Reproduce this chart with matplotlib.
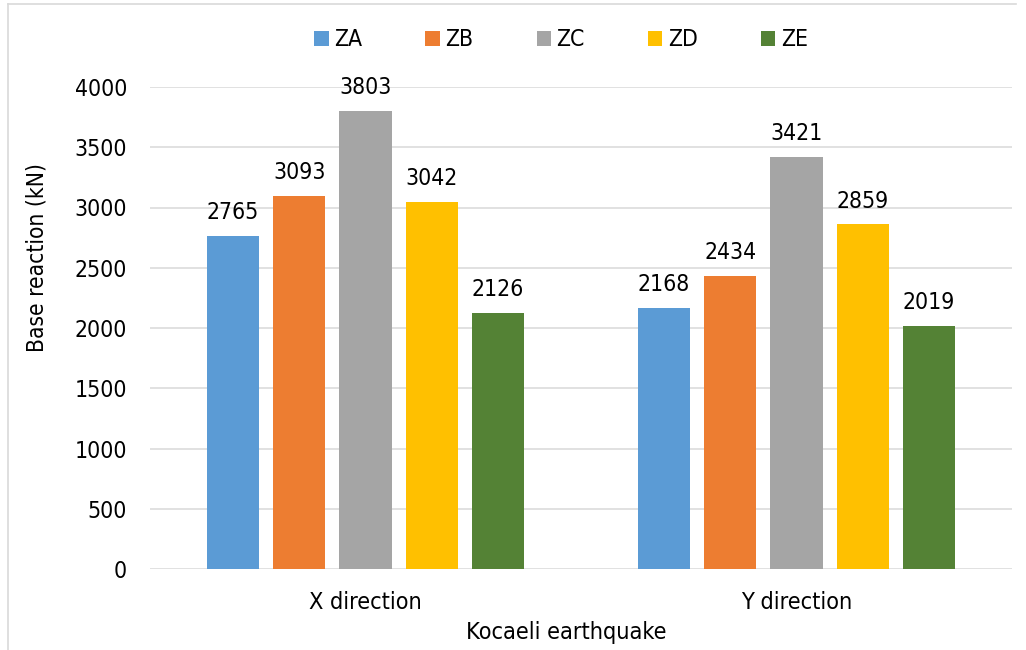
import numpy as np
import matplotlib
matplotlib.use("Agg")
from matplotlib import pyplot as plt
from matplotlib.lines import Line2D

# Base reaction per soil class, Kocaeli earthquake
directions = ["X direction", "Y direction"]
soil_classes = ["ZA", "ZB", "ZC", "ZD", "ZE"]
za = [2765, 2168]
zb = [3093, 2434]
zc = [3803, 3421]
zd = [3042, 2859]
ze = [2126, 2019]
yticks = [0, 500, 1000, 1500, 2000, 2500, 3000, 3500, 4000]

colors = ["#5B9BD5", "#ED7D31", "#A5A5A5", "#FFC000", "#548235"]

plt.rcParams["font.family"] = ["DejaVu Sans"]
plt.rcParams["font.stretch"] = "condensed"

W, H = 1026, 650
fig = plt.figure(figsize=(W / 100, H / 100), dpi=100)
ax = fig.add_axes([150 / W, 81 / H, 862 / W, 482 / H])

x = np.arange(len(directions))
step = 0.1538
width = 0.1207
bars = []
for i, (name, vals) in enumerate(zip(soil_classes, [za, zb, zc, zd, ze])):
    b = ax.bar(x + (i - 2) * step, vals, width, color=colors[i], label=name, zorder=3)
    bars.append(b)
    for rect, v in zip(b, vals):
        ax.annotate(str(v), (rect.get_x() + rect.get_width() / 2, v),
                    xytext=(0, 12.2), textcoords="offset points",
                    ha="center", va="baseline", fontsize=16.5, color="#000000")

ax.set_xlim(-0.5, 1.5)
ax.set_ylim(0, 4000)
ax.set_yticks(yticks)
ax.set_xticks(x)
ax.set_xticklabels(directions, fontsize=16.8)
ax.tick_params(axis="y", length=0, pad=16.5, labelsize=16.5)
ax.tick_params(axis="x", length=0, pad=15.5)
ax.grid(axis="y", color="#D9D9D9", linewidth=1.1, zorder=0)
for s in ax.spines.values():
    s.set_visible(False)

# Axis titles
fig.text(566 / W, 1 - 639 / H, "Kocaeli earthquake", ha="center", va="baseline", fontsize=16.8)
fig.text(37 / W, 1 - 258 / H, "Base reaction (kN)", ha="center", va="center",
         rotation=90, fontsize=16.3)

# Legend on top
fig.legend(handles=[b[0] for b in bars], labels=soil_classes, loc="center",
           bbox_to_anchor=(561 / W, 1 - 40 / H), ncol=5, frameon=False,
           fontsize=16.5, handlelength=0.62, handleheight=0.62,
           handletextpad=0.25, columnspacing=2.75, borderpad=0)

# Chart area border (top and left edges)
fig.add_artist(Line2D([8 / W, 8 / W], [0, 1 - 4 / H], color="#D9D9D9", linewidth=1.2))
fig.add_artist(Line2D([8 / W, 1016 / W], [1 - 4 / H, 1 - 4 / H], color="#D9D9D9", linewidth=1.2))

fig.savefig("out.png", dpi=100)
